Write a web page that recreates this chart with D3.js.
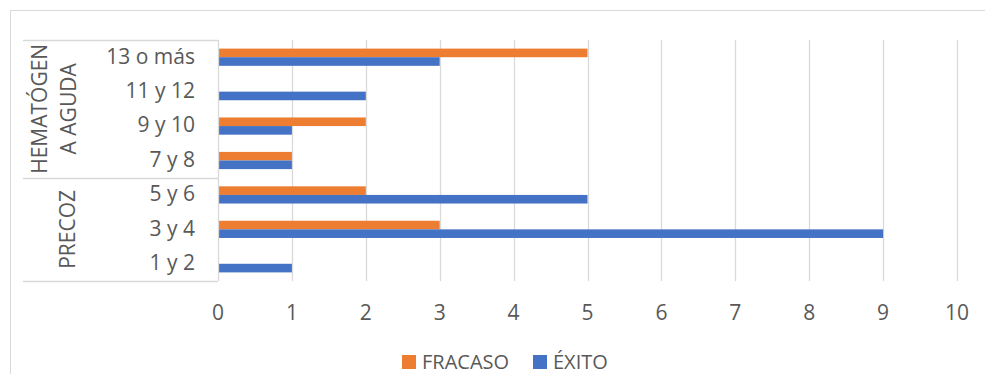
<!DOCTYPE html>
<html>
<head>
<meta charset="utf-8">
<script src="https://cdn.jsdelivr.net/npm/d3@7"></script>
<style>
  body { margin: 0; background: #fff; }
  text { font-family: "Open Sans", sans-serif; fill: #595959; }
</style>
</head>
<body>
<script>
// categories, bottom to top as in the source chart
var categories = ["1 y 2", "3 y 4", "5 y 6", "7 y 8", "9 y 10", "11 y 12", "13 o más"];
var groups = [
  {lines: ["PRECOZ"], from: 0, to: 2},
  {lines: ["HEMATÓGEN", "A AGUDA"], from: 3, to: 6}
];
var fracaso = [0, 3, 2, 1, 2, 0, 5];
var exito   = [1, 9, 5, 1, 1, 2, 3];
var series = [
  {name: "FRACASO", values: fracaso, color: "#ED7D31"},
  {name: "ÉXITO",   values: exito,   color: "#4472C4"}
];
var xTicks = [0, 1, 2, 3, 4, 5, 6, 7, 8, 9, 10];

var W = 985, H = 374;
var plot = {left: 218, right: 957, top: 40, bottom: 281};
var fontSize = "21px";

var svg = d3.select("body").append("svg")
    .attr("width", W)
    .attr("height", H);

// chart frame
svg.append("rect")
    .attr("x", 10.5).attr("y", 10.5)
    .attr("width", 1000).attr("height", 400)
    .attr("fill", "none")
    .attr("stroke", "#D9D9D9");

var x = d3.scaleLinear().domain([0, 10]).range([plot.left, plot.right]);
// top of chart = last category
var y = d3.scaleBand()
    .domain(categories.slice().reverse())
    .range([plot.top, plot.bottom])
    .paddingInner(0.5).paddingOuter(0.25);
var inner = d3.scaleBand()
    .domain(series.map(function(s) { return s.name; }))
    .range([0, y.bandwidth()]);

// gridlines
svg.append("g").selectAll("line")
    .data(xTicks.slice(1))
  .enter().append("line")
    .attr("x1", function(d) { return Math.round(x(d)) + 0.5; })
    .attr("x2", function(d) { return Math.round(x(d)) + 0.5; })
    .attr("y1", plot.top).attr("y2", plot.bottom)
    .attr("stroke", "#D9D9D9").attr("stroke-width", 1.3);

// bars
series.forEach(function(s) {
  svg.append("g").selectAll("rect")
      .data(categories)
    .enter().append("rect")
      .attr("x", x(0))
      .attr("y", function(d) { return y(d) + inner(s.name); })
      .attr("height", inner.bandwidth())
      .attr("width", function(d, i) { return x(s.values[i]) - x(0); })
      .attr("fill", s.color);
});

// category axis line + group table lines
var axisColor = "#D9D9D9";
svg.append("line")
    .attr("x1", x(0) + 0.5).attr("x2", x(0) + 0.5)
    .attr("y1", plot.top).attr("y2", plot.bottom)
    .attr("stroke", axisColor).attr("stroke-width", 1.3);

var step = (plot.bottom - plot.top) / categories.length;
function catEdge(i) { return plot.bottom - i * step; } // bottom edge of category i

var sepYs = [plot.top, catEdge(groups[0].to + 1), plot.bottom];
svg.append("g").selectAll("line")
    .data(sepYs)
  .enter().append("line")
    .attr("x1", 23).attr("x2", x(0))
    .attr("y1", function(d) { return Math.round(d) + 0.5; })
    .attr("y2", function(d) { return Math.round(d) + 0.5; })
    .attr("stroke", axisColor).attr("stroke-width", 1.3);

// category labels
svg.append("g").selectAll("text")
    .data(categories)
  .enter().append("text")
    .attr("x", 195)
    .attr("y", function(d) { return y(d) + y.bandwidth() / 2 - 1; })
    .attr("dy", "0.35em")
    .attr("text-anchor", "end")
    .style("font-size", fontSize)
    .text(function(d) { return d; });

// group labels, rotated
groups.forEach(function(g) {
  var cy = (catEdge(g.from) + catEdge(g.to + 1)) / 2;
  var lh = 29;
  var x0 = g.lines.length > 1 ? 40 : 68;
  g.lines.forEach(function(t, k) {
    var cx = x0 + k * lh;
    svg.append("text")
        .attr("transform", "translate(" + cx + "," + cy + ") rotate(-90)")
        .attr("text-anchor", "middle")
        .attr("dy", "0.35em")
        .style("font-size", fontSize)
        .text(t);
  });
});

// value axis labels
svg.append("g").selectAll("text")
    .data(xTicks)
  .enter().append("text")
    .attr("x", function(d) { return x(d); })
    .attr("y", 313)
    .attr("dy", "0.35em")
    .attr("text-anchor", "middle")
    .style("font-size", fontSize)
    .text(function(d) { return d; });

// legend (nudged up a little so the text stays inside the picture)
var legendX = [402, 533];
series.forEach(function(s, i) {
  var lg = svg.append("g").attr("transform", "translate(" + legendX[i] + ",355)");
  lg.append("rect").attr("width", 14).attr("height", 14).attr("fill", s.color);
  lg.append("text")
      .attr("x", 20).attr("y", 7)
      .attr("dy", "0.35em")
      .style("font-size", "20px")
      .text(s.name);
});
</script>
</body>
</html>
